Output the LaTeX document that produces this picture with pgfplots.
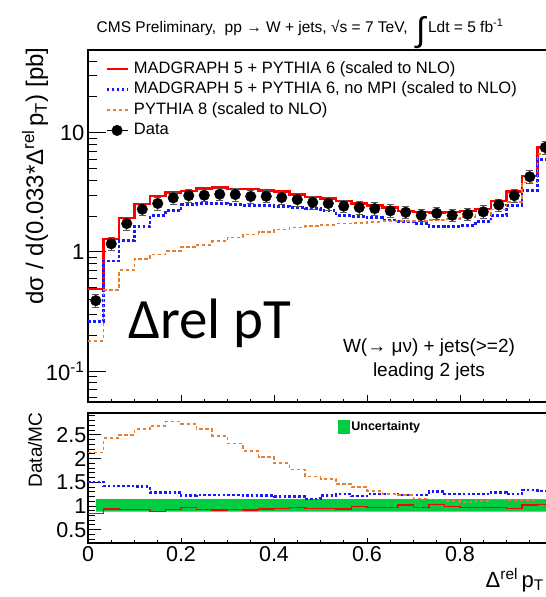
\documentclass[border=0pt]{standalone}
\usepackage{fontspec}
\setmainfont{Liberation Sans}
\newfontfamily\calibri{Carlito}
\usepackage{pgfplots}
\usepackage{pgfplotstable}
\pgfplotsset{compat=1.18}

\definecolor{mgred}{RGB}{255,0,0}
\definecolor{mgblue}{RGB}{25,25,255}
\definecolor{pyorange}{RGB}{228,128,52}
\definecolor{uncgreen}{RGB}{0,204,68}

\pgfplotstableread{
x red blue orange
0.0000 0.486 0.26 0.18
0.0333 1.29 0.84 0.48
0.0667 1.94 1.25 0.70
0.1000 2.52 1.64 0.87
0.1333 2.96 2.02 0.95
0.1667 3.15 2.22 1.02
0.2000 3.24 2.50 1.10
0.2333 3.41 2.53 1.15
0.2667 3.47 2.55 1.23
0.3000 3.36 2.50 1.32
0.3333 3.36 2.47 1.40
0.3667 3.28 2.47 1.47
0.4000 3.21 2.42 1.54
0.4333 3.03 2.36 1.60
0.4667 2.90 2.31 1.65
0.5000 2.81 2.22 1.69
0.5333 2.67 2.03 1.73
0.5667 2.55 1.99 1.76
0.6000 2.45 1.93 1.79
0.6333 2.36 1.85 1.81
0.6667 2.21 1.80 1.82
0.7000 2.17 1.73 1.82
0.7333 2.14 1.64 1.85
0.7667 2.17 1.64 1.89
0.8000 2.21 1.67 1.96
0.8333 2.30 1.79 2.03
0.8667 2.68 2.03 2.27
0.9000 3.21 2.47 2.63
0.9333 4.32 3.30 3.83
0.9667 7.53 5.97 6.6
1.0000 7.53 5.97 6.6
}\mainhist

\pgfplotstableread{
x y e
0.0167 0.39 0.047
0.0500 1.17 0.14
0.0833 1.73 0.21
0.1167 2.28 0.27
0.1500 2.55 0.31
0.1833 2.84 0.34
0.2167 2.97 0.36
0.2500 2.99 0.36
0.2833 3.05 0.37
0.3167 3.03 0.36
0.3500 2.92 0.35
0.3833 2.93 0.35
0.4167 2.86 0.34
0.4500 2.75 0.33
0.4833 2.60 0.31
0.5167 2.55 0.31
0.5500 2.42 0.29
0.5833 2.36 0.28
0.6167 2.31 0.28
0.6500 2.21 0.27
0.6833 2.15 0.26
0.7167 2.03 0.24
0.7500 2.11 0.25
0.7833 2.03 0.24
0.8167 2.07 0.25
0.8500 2.17 0.26
0.8833 2.48 0.30
0.9167 2.97 0.36
0.9500 4.27 0.51
0.9833 7.53 0.90
}\datapts

\pgfplotstableread{
x red blue orange
0.0000 0.845 1.51 2.125
0.0333 0.94 1.42 2.43
0.0667 0.93 1.42 2.50
0.1000 0.93 1.41 2.62
0.1333 0.88 1.29 2.69
0.1667 0.93 1.29 2.78
0.2000 0.965 1.22 2.73
0.2333 0.93 1.23 2.62
0.2667 0.91 1.23 2.48
0.3000 0.93 1.23 2.32
0.3333 0.91 1.22 2.16
0.3667 0.94 1.22 2.03
0.4000 0.95 1.20 1.90
0.4333 0.965 1.20 1.77
0.4667 0.95 1.15 1.62
0.5000 0.95 1.22 1.57
0.5333 0.94 1.25 1.46
0.5667 0.99 1.21 1.40
0.6000 0.97 1.25 1.32
0.6333 0.965 1.25 1.26
0.6667 1.02 1.23 1.23
0.7000 0.965 1.23 1.16
0.7333 1.035 1.30 1.14
0.7667 0.99 1.25 1.11
0.8000 0.97 1.25 1.09
0.8333 0.965 1.25 1.11
0.8667 0.965 1.29 1.14
0.9000 0.95 1.25 1.13
0.9333 1.02 1.34 1.13
0.9667 1.035 1.32 1.14
1.0000 1.035 1.32 1.14
}\ratiohist

\begin{document}
\begin{tikzpicture}
\begin{axis}[
  at={(88bp,-402bp)}, anchor=south west, scale only axis,
  width=465bp, height=352bp,
  xmin=0, xmax=1, ymode=log, ymin=0.055, ymax=49.5,
  axis line style={line width=1.5bp},
  tick align=inside, tick pos=left,
  xtick={0,0.2,0.4,0.6,0.8,1}, xticklabels={},
  minor x tick num=3,
  ytick={0.1,1,10}, yticklabels={10\textsuperscript{-1},1,10},
  minor ytick={0.06,0.07,0.08,0.09,0.2,0.3,0.4,0.5,0.6,0.7,0.8,0.9,2,3,4,5,6,7,8,9,20,30,40},
  major tick length=18bp, minor tick length=9bp,
  xtick style={/pgfplots/major tick length=7bp,/pgfplots/minor tick length=3.5bp},
  every tick/.append style={line width=1bp, black},
  yticklabel style={font=\fontsize{22bp}{24bp}\selectfont},
  legend style={at={(0,1)}, anchor=north west, xshift=17bp, yshift=-8.5bp,
    draw=none, fill=none, font=\fontsize{16.5bp}{19bp}\selectfont,
    row sep=0bp, inner sep=0bp,
    nodes={inner sep=2bp, text height=12.5bp, text depth=4bp}},
  legend cell align=left,
  legend image code/.code={\draw[#1] (0bp,0bp) -- (21bp,0bp);},
]
\addplot[const plot, mgred, line width=2.2bp] table[x=x, y=red] {\mainhist};
\addlegendentry{\hspace{3bp}MADGRAPH 5 + PYTHIA 6 (scaled to NLO)}
\addplot[const plot, mgblue, line width=2.8bp, dash pattern=on 2.8bp off 2.2bp] table[x=x, y=blue] {\mainhist};
\addlegendentry{\hspace{3bp}MADGRAPH 5 + PYTHIA 6, no MPI (scaled to NLO)}
\addplot[const plot, pyorange, line width=1.8bp, dash pattern=on 3.3bp off 2.7bp] table[x=x, y=orange] {\mainhist};
\addlegendentry{\hspace{3bp}PYTHIA 8 (scaled to NLO)}
\addplot[only marks, mark=*, mark size=5.3bp, black,
  legend image code/.code={\draw[black, line width=1.2bp] (0bp,0bp) -- (21bp,0bp); \fill[black] (10.5bp,0bp) circle (5.3bp);},
  error bars/.cd, y dir=both, y explicit,
  error bar style={black!65, line width=1bp},
  error mark options={rotate=90, mark size=3.5bp, black!65, line width=1bp}]
  table[x=x, y=y, y error=e] {\datapts};
\addlegendentry{\hspace{3bp}Data}
\end{axis}

\begin{axis}[
  at={(88bp,-543bp)}, anchor=south west, scale only axis,
  width=465bp, height=130bp,
  xmin=0, xmax=1, ymin=0.22, ymax=2.96,
  axis line style={line width=1.5bp},
  tick align=inside, tick pos=left,
  xtick={0,0.2,0.4,0.6,0.8,1}, xticklabels={0,0.2,0.4,0.6,0.8,{}},
  minor x tick num=3,
  ytick={0.5,1,1.5,2,2.5}, yticklabels={0.5,1,1.5,2,2.5},
  minor ytick={0.3,0.4,0.6,0.7,0.8,0.9,1.1,1.2,1.3,1.4,1.6,1.7,1.8,1.9,2.1,2.2,2.3,2.4,2.6,2.7,2.8,2.9},
  major tick length=13bp, minor tick length=6.5bp,
  xtick style={/pgfplots/major tick length=5bp,/pgfplots/minor tick length=3bp},
  every tick/.append style={line width=1bp, black},
  ticklabel style={font=\fontsize{21.5bp}{24bp}\selectfont},
  yticklabel style={inner sep=1.5bp},
  legend style={at={(0.538,1)}, anchor=north west, yshift=-7bp,
    draw=none, fill=none, font=\bfseries\fontsize{12.5bp}{14bp}\selectfont,
    inner sep=0bp, nodes={inner sep=1bp}},
  legend image code/.code={\fill[uncgreen] (0bp,-7bp) rectangle (12bp,7bp);},
]
\addplot[fill=uncgreen, draw=none] coordinates {(0.0167,0.88) (1,0.88) (1,1.145) (0.0167,1.145) (0.0167,0.88)};
\addlegendentry{Uncertainty}
\addplot[forget plot, const plot, mgred, line width=1.6bp] table[x=x, y=red] {\ratiohist};
\addplot[forget plot, const plot, mgblue, line width=2.6bp, dash pattern=on 2.6bp off 2.2bp] table[x=x, y=blue] {\ratiohist};
\addplot[forget plot, const plot, pyorange, line width=1.7bp, dash pattern=on 3.3bp off 2.7bp] table[x=x, y=orange] {\ratiohist};
\end{axis}

\node[font=\fontsize{15.5bp}{18bp}\selectfont, anchor=base] at (300bp,-32bp)
  {CMS Preliminary,\ \ pp → W + jets, √s = 7 TeV,\ \ \raisebox{-9bp}{\fontsize{34bp}{34bp}\selectfont ∫}\,Ldt = 5 fb\textsuperscript{-1}};
\node[rotate=90, font=\fontsize{24bp}{26bp}\selectfont] at (35bp,-176bp)
  {dσ / d(0.033*Δ\textsuperscript{rel}\,p\textsubscript{T}) [pb]};
\node[rotate=90, font=\fontsize{19bp}{21bp}\selectfont] at (35bp,-450bp) {Data/MC};
\node[font=\fontsize{19bp}{21bp}\selectfont] at (429bp,-348bp) {W(→ μν) + jets(>=2)};
\node[font=\fontsize{19bp}{21bp}\selectfont] at (429bp,-372bp) {leading 2 jets};
\node[anchor=base west, inner sep=0pt, font=\calibri\fontsize{57bp}{60bp}\selectfont] at (128bp,-338bp) {Δrel pT};
\node[anchor=base east, inner sep=0pt, font=\fontsize{22bp}{26bp}\selectfont] at (544bp,-587bp) {Δ\textsuperscript{rel}\,p\textsubscript{T}};

\pgfresetboundingbox
\path[use as bounding box] (0bp,0bp) rectangle (546bp,-597bp);
\end{tikzpicture}
\end{document}
